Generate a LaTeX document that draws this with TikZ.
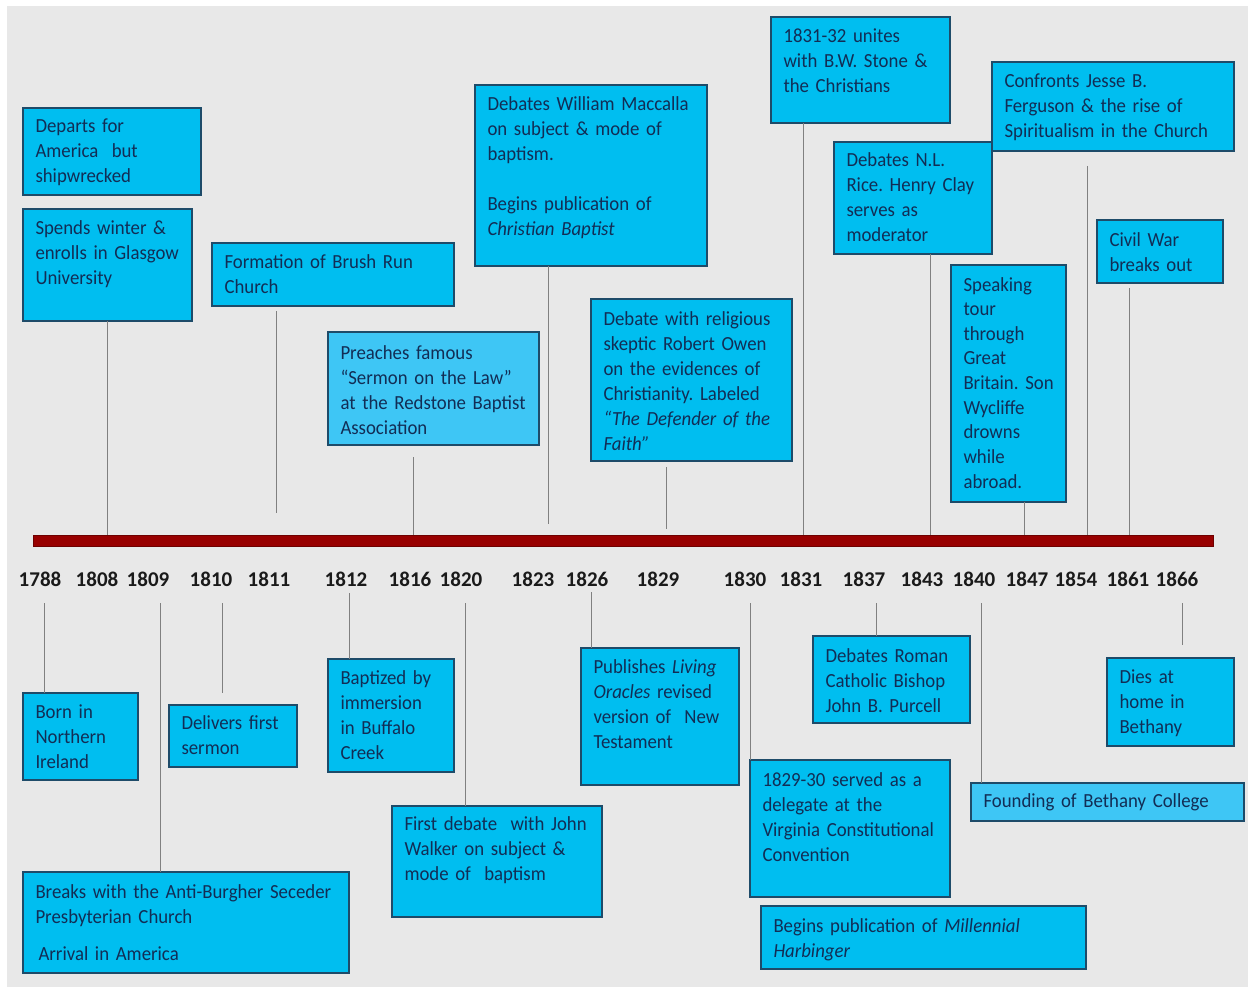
\documentclass[tikz,border=0pt]{standalone}
\usepackage{fontspec}
\setmainfont{Carlito}[FakeStretch=0.94]
\newfontfamily\yearfont{Carlito}
\usetikzlibrary{calc}
\definecolor{bgray}{RGB}{232,232,232}
\definecolor{evfill}{RGB}{0,190,240}
\definecolor{evlight}{RGB}{62,198,245}
\definecolor{evborder}{RGB}{30,75,105}
\definecolor{evtext}{RGB}{18,45,85}
\definecolor{barred}{RGB}{152,0,0}
\definecolor{barline}{RGB}{110,0,0}
\definecolor{conngray}{RGB}{128,128,128}
\definecolor{yeartext}{RGB}{26,26,26}
\tikzset{
  evbox/.style={draw=evborder, line width=1.3pt, rectangle, inner sep=0pt, outer sep=0pt},
  evtxt/.style={text=evtext, font=\fontsize{20}{25}\selectfont\frenchspacing, align=left, text width=330pt, inner sep=0pt, outer sep=0pt},
  yearlbl/.style={text=yeartext, font=\yearfont\bfseries\fontsize{21}{25}\selectfont, inner sep=0pt, anchor=base},
  conn/.style={draw=conngray, line width=1pt},
  barbox/.style={fill=barred, draw=barline, line width=0.8pt, rectangle, inner sep=0pt, outer sep=0pt}
}
\newcommand{\evbox}[8][evfill]{%
  \node[evbox, fill=#1, minimum width={(#5-#3)*1pt}, minimum height={(#6-#4)*1pt}, anchor=north west] (#2) at (#3,#4) {};
  \node[evtxt, anchor=base west] (#2t) at (#3+12.5,#7) {#8};
}
\begin{document}
\begin{tikzpicture}[x=1pt,y=-1pt]
\useasboundingbox (0,0) rectangle (1252,987);
\fill[white] (0,0) rectangle (1252,987);
\fill[bgray] (7,6) rectangle (1248,987);

% timeline bar
\node[barbox, minimum width=1180pt, minimum height=11pt, anchor=north west] (tl) at (33,535) {};

% years
\node[yearlbl] (y1788) at (40,586) {1788};
\node[yearlbl] (y1808) at (97,586) {1808};
\node[yearlbl] (y1809) at (148,586) {1809};
\node[yearlbl] (y1810) at (211,586) {1810};
\node[yearlbl] (y1811) at (269,586) {1811};
\node[yearlbl] (y1812) at (346,586) {1812};
\node[yearlbl] (y1816) at (410,586) {1816};
\node[yearlbl] (y1820) at (461,586) {1820};
\node[yearlbl] (y1823) at (533,586) {1823};
\node[yearlbl] (y1826) at (587,586) {1826};
\node[yearlbl] (y1829) at (658,586) {1829};
\node[yearlbl] (y1830) at (745,586) {1830};
\node[yearlbl] (y1831) at (801,586) {1831};
\node[yearlbl] (y1837) at (864,586) {1837};
\node[yearlbl] (y1843) at (922,586) {1843};
\node[yearlbl] (y1840) at (974,586) {1840};
\node[yearlbl] (y1847) at (1027,586) {1847};
\node[yearlbl] (y1854) at (1076,586) {1854};
\node[yearlbl] (y1861) at (1128,586) {1861};
\node[yearlbl] (y1866) at (1177,586) {1866};

% boxes above the timeline
\evbox{b1}{23}{108}{201}{195}{133}{Departs for\\America\ \ but\\shipwrecked}
\evbox{b2}{23}{209}{192}{321}{234}{Spends winter \&\\enrolls in Glasgow\\University}
\evbox{b3}{212}{243}{454}{306}{268}{Formation of Brush Run\\Church}
\evbox[evlight]{b4}{328}{332}{539}{445}{359}{Preaches famous\\“Sermon on the Law”\\at the Redstone Baptist\\Association}
\evbox{b5}{475}{85}{707}{266}{111}{Debates William Maccalla\\on subject \& mode of\\baptism.\\[25pt]Begins publication of\\\textit{Christian Baptist}}
\evbox{b6}{591}{299}{792}{461}{325}{Debate with religious\\skeptic Robert Owen\\on the evidences of\\Christianity. Labeled\\\textit{“The Defender of the}\\\textit{Faith”}}
\evbox{b7}{771}{17}{950}{123}{43}{1831-32 unites\\with B.W. Stone \&\\the Christians}
\evbox{b8}{834}{142}{992}{254}{167}{Debates N.L.\\Rice. Henry Clay\\serves as\\moderator}
\evbox{b9}{992}{62}{1234}{151}{88}{Confronts Jesse B.\\Ferguson \& the rise of\\Spiritualism in the Church}
\evbox{b10}{1097}{220}{1223}{283}{246}{Civil War\\breaks out}
\evbox{b11}{951}{265}{1066}{502}{291}{\fontsize{20}{24.6}\selectfont Speaking\\tour\\through\\Great\\Britain. Son\\Wycliffe\\drowns\\while\\abroad.}

% boxes below the timeline
\evbox{b12}{23}{693}{138}{780}{718}{Born in\\Northern\\Ireland}
\evbox{b13}{23}{872}{349}{973}{898}{Breaks with the Anti-Burgher Seceder\\Presbyterian Church\\[12pt]\hspace*{3pt}Arrival in America}
\evbox{b14}{169}{705}{297}{767}{729}{Delivers first\\sermon}
\evbox{b15}{328}{659}{454}{772}{684}{Baptized by\\immersion\\in Buffalo\\Creek}
\evbox{b16}{392}{806}{602}{917}{830}{First debate\ \ with John\\Walker on subject \&\\mode of\ \ baptism}
\evbox{b17}{581}{648}{739}{785}{673}{Publishes \textit{Living}\\\textit{Oracles} revised\\version of\ \ New\\Testament}
\evbox{b18}{750}{760}{950}{897}{786}{1829-30 served as a\\delegate at the\\Virginia Constitutional\\Convention}
\evbox{b19}{761}{906}{1086}{969}{932}{Begins publication of \textit{Millennial}\\\textit{Harbinger}}
\evbox{b20}{813}{636}{970}{723}{662}{Debates Roman\\Catholic Bishop\\John B. Purcell}
\evbox[evlight]{b21}{971}{783}{1244}{821}{807}{Founding of Bethany College}
\evbox{b22}{1107}{658}{1234}{746}{683}{Dies at\\home in\\Bethany}

% connector end points
\coordinate (x1808) at (107,0);
\coordinate (t1811) at (276,311);  \coordinate (e1811) at (276,513);
\coordinate (t1816) at (413,457);
\coordinate (x1823) at (548,0);    \coordinate (e1823) at (548,524);
\coordinate (t1829) at (666,467);  \coordinate (e1829) at (666,529);
\coordinate (x1831) at (803,0);
\coordinate (x1843) at (930,0);
\coordinate (x1847) at (1024,0);
\coordinate (t1854) at (1087,166);
\coordinate (t1861) at (1129,288);

\coordinate (s1788) at (44,603);
\coordinate (s1809) at (160,603);
\coordinate (s1810) at (222,603);  \coordinate (e1810) at (222,693);
\coordinate (s1812) at (349,593);
\coordinate (s1820) at (465,603);
\coordinate (s1826) at (591,592);
\coordinate (s1830) at (750,603);
\coordinate (s1837) at (876,603);
\coordinate (s1840) at (981,603);
\coordinate (s1866) at (1182,603); \coordinate (e1866) at (1182,645);

% connectors above
\draw[conn] (b2.south -| x1808) -- (tl.north -| x1808);
\draw[conn] (t1811) -- (e1811);
\draw[conn] (t1816) -- (tl.north -| t1816);
\draw[conn] (b5.south -| x1823) -- (e1823);
\draw[conn] (t1829) -- (e1829);
\draw[conn] (b7.south -| x1831) -- (tl.north -| x1831);
\draw[conn] (b8.south -| x1843) -- (tl.north -| x1843);
\draw[conn] (b11.south -| x1847) -- (tl.north -| x1847);
\draw[conn] (t1854) -- (tl.north -| t1854);
\draw[conn] (t1861) -- (tl.north -| t1861);

% connectors below
\draw[conn] (s1788) -- (b12.north -| s1788);
\draw[conn] (s1809) -- (b13.north -| s1809);
\draw[conn] (s1810) -- (e1810);
\draw[conn] (s1812) -- (b15.north -| s1812);
\draw[conn] (s1820) -- (b16.north -| s1820);
\draw[conn] (s1826) -- (b17.north -| s1826);
\draw[conn] (s1830) -- (b18.north -| s1830);
\draw[conn] (s1837) -- (b20.north -| s1837);
\draw[conn] (s1840) -- (b21.north -| s1840);
\draw[conn] (s1866) -- (e1866);
\end{tikzpicture}
\end{document}
